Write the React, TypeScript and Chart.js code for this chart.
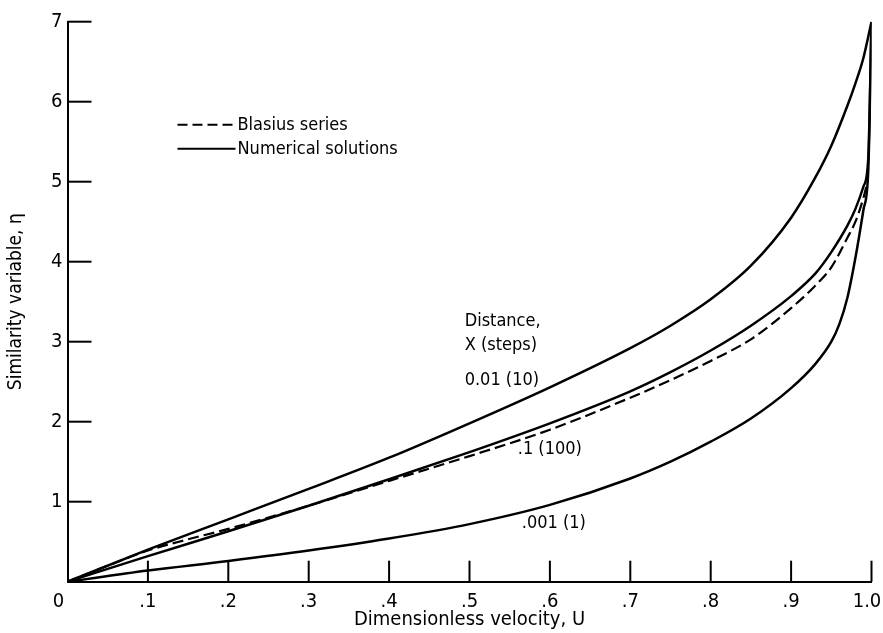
import { useEffect, useRef } from "react";
import { Chart, registerables } from "chart.js";

Chart.register(...registerables);

const FONT = "'Liberation Sans Narrow', 'DejaVu Sans Condensed', 'Arial Narrow', sans-serif";

// ---- data ----
const xTickValues = [0, 0.1, 0.2, 0.3, 0.4, 0.5, 0.6, 0.7, 0.8, 0.9, 1.0];
const xTickLabels = ["0\u2002\u2002", ".1", ".2", ".3", ".4", ".5", ".6", ".7", ".8", ".9", "1.0\u2002"];
const yTickValues = [0, 1, 2, 3, 4, 5, 6, 7];
const yTickLabels = ["", "1", "2", "3", "4", "5", "6", "7"];

const xAxisTitle = "Dimensionless velocity, U";
const yAxisTitle = "Similarity variable, \u03b7";

const legendLabels = ["Blasius series", "Numerical solutions"];
const noteLines = ["Distance,", "X (steps)"];
const curveLabels = ["0.01 (10)", ".1 (100)", ".001 (1)"];

// Numerical solution, X = 0.01 (10 steps)
const uX001 = [0, 0.1, 0.2, 0.3, 0.4, 0.5, 0.6, 0.7, 0.75, 0.8, 0.85, 0.9, 0.93, 0.95, 0.97, 0.98, 0.99, 1.0];
const etaX001 = [0, 0.4, 0.78, 1.16, 1.55, 1.98, 2.43, 2.92, 3.2, 3.53, 3.95, 4.55, 5.05, 5.45, 5.95, 6.23, 6.55, 7.0];

// Numerical solution, X = 0.1 (100 steps)
const uX01 = [0, 0.1, 0.2, 0.3, 0.4, 0.5, 0.6, 0.7, 0.75, 0.8, 0.85, 0.9, 0.93, 0.95, 0.97, 0.98, 0.99, 0.996, 1.0];
const etaX01 = [0, 0.32, 0.63, 0.95, 1.28, 1.62, 1.98, 2.38, 2.62, 2.89, 3.2, 3.57, 3.85, 4.12, 4.45, 4.66, 4.94, 5.3, 7.0];

// Numerical solution, X = 0.001 (1 step)
const uX0001 = [0, 0.1, 0.2, 0.3, 0.4, 0.5, 0.6, 0.7, 0.75, 0.8, 0.85, 0.9, 0.93, 0.95, 0.96, 0.97, 0.98, 0.99, 0.996, 1.0];
const etaX0001 = [0, 0.14, 0.26, 0.39, 0.54, 0.72, 0.96, 1.29, 1.5, 1.75, 2.04, 2.42, 2.72, 3.0, 3.22, 3.55, 4.05, 4.65, 5.15, 7.0];

// Blasius series
const uBlasius = [0, 0.05, 0.1, 0.15, 0.2, 0.3, 0.4, 0.5, 0.6, 0.7, 0.75, 0.8, 0.85, 0.9, 0.93, 0.95, 0.97, 0.98, 0.99, 0.995];
const etaBlasius = [0, 0.2, 0.39, 0.53, 0.66, 0.95, 1.26, 1.57, 1.9, 2.3, 2.52, 2.76, 3.03, 3.42, 3.7, 3.93, 4.3, 4.5, 4.8, 5.0];

const toPoints = (xs: number[], ys: number[]) => xs.map((x, i) => ({ x, y: ys[i] }));

const DASH = [11, 5];

const decorPlugin = {
  id: "decor",
  afterDraw(chart: any) {
    const { ctx, chartArea, scales } = chart;
    const xs = scales.x;
    const ys = scales.y;
    ctx.save();
    ctx.strokeStyle = "#000";
    ctx.fillStyle = "#000";
    ctx.lineWidth = 2;
    ctx.lineCap = "butt";
    // inward tick marks
    xTickValues.forEach((v) => {
      if (v === 0) return;
      const px = xs.getPixelForValue(v);
      ctx.beginPath();
      ctx.moveTo(px, chartArea.bottom);
      ctx.lineTo(px, chartArea.bottom - 21);
      ctx.stroke();
    });
    yTickValues.forEach((v) => {
      if (v === 0) return;
      const py = ys.getPixelForValue(v);
      ctx.beginPath();
      ctx.moveTo(chartArea.left, py);
      ctx.lineTo(chartArea.left + 24, py);
      ctx.stroke();
    });

    // legend
    const lx = chartArea.left + 110;
    const lyTop = chartArea.top + 103;
    ctx.font = `18px ${FONT}`;
    ctx.textBaseline = "middle";
    ctx.textAlign = "left";
    legendLabels.forEach((label, i) => {
      const ly = lyTop + i * 24;
      ctx.setLineDash(i === 0 ? [10, 5] : []);
      ctx.beginPath();
      ctx.moveTo(lx, ly);
      ctx.lineTo(lx + 58, ly);
      ctx.stroke();
      ctx.setLineDash([]);
      ctx.fillText(label, lx + 60, ly + 1);
    });

    // annotations (placed in data coordinates)
    const noteU = 0.494;
    const noteEta = [3.26, 2.96];
    noteLines.forEach((t, i) => {
      ctx.fillText(t, xs.getPixelForValue(noteU), ys.getPixelForValue(noteEta[i]));
    });
    const labelPos = [
      [0.494, 2.52],
      [0.56, 1.65],
      [0.565, 0.73],
    ];
    curveLabels.forEach((t, i) => {
      ctx.fillText(t, xs.getPixelForValue(labelPos[i][0]), ys.getPixelForValue(labelPos[i][1]));
    });
    ctx.restore();
  },
};

export default function App() {
  const canvasRef = useRef<HTMLCanvasElement | null>(null);

  useEffect(() => {
    document.body.style.margin = "0";
    document.body.style.overflow = "hidden";
    const canvas = canvasRef.current;
    if (!canvas) return;
    const lineStyle = {
      borderColor: "#000",
      borderWidth: 2.5,
      pointRadius: 0,
      fill: false,
      cubicInterpolationMode: "monotone" as const,
    };
    const chart = new Chart(canvas, {
      type: "line",
      data: {
        datasets: [
          { ...lineStyle, label: "0.01 (10)", data: toPoints(uX001, etaX001) },
          { ...lineStyle, label: ".1 (100)", data: toPoints(uX01, etaX01) },
          { ...lineStyle, label: ".001 (1)", data: toPoints(uX0001, etaX0001) },
          { ...lineStyle, label: "Blasius series", borderDash: DASH, borderWidth: 2.2, data: toPoints(uBlasius, etaBlasius) },
        ],
      },
      options: {
        animation: false,
        responsive: false,
        layout: { padding: { top: 21.7, right: 11.5, bottom: 0, left: 0 } },
        plugins: { legend: { display: false }, tooltip: { enabled: false } },
        scales: {
          x: {
            type: "linear",
            min: 0,
            max: 1,
            afterBuildTicks: (scale: any) => {
              scale.ticks = xTickValues.map((v) => ({ value: v }));
            },
            afterFit: (scale: any) => {
              scale.height = 51.3;
              scale.paddingLeft = 0;
              scale.paddingRight = 0;
            },
            grid: { display: false, drawTicks: false },
            border: { display: true, color: "#000", width: 2 },
            ticks: {
              color: "#000",
              font: { family: FONT, size: 20 },
              padding: 8,
              maxRotation: 0,
              autoSkip: false,
              callback: (_v: any, i: number) => xTickLabels[i],
            },
            title: {
              display: true,
              text: xAxisTitle,
              color: "#000",
              font: { family: FONT, size: 20 },
              padding: { top: 0, bottom: 1 },
            },
          },
          y: {
            type: "linear",
            min: 0,
            max: 7,
            afterBuildTicks: (scale: any) => {
              scale.ticks = yTickValues.map((v) => ({ value: v }));
            },
            afterFit: (scale: any) => {
              scale.width = 67.5;
              scale.paddingTop = 0;
              scale.paddingBottom = 0;
            },
            grid: { display: false, drawTicks: false },
            border: { display: true, color: "#000", width: 2 },
            ticks: {
              color: "#000",
              font: { family: FONT, size: 20 },
              padding: 5,
              autoSkip: false,
              callback: (_v: any, i: number) => yTickLabels[i],
            },
            title: {
              display: true,
              text: yAxisTitle,
              color: "#000",
              font: { family: FONT, size: 19 },
              padding: { top: 5, bottom: 0 },
            },
          },
        },
      },
      plugins: [decorPlugin],
    });
    return () => chart.destroy();
  }, []);

  return (
    <div style={{ width: 883, height: 633, background: "#fff" }}>
      <canvas ref={canvasRef} width={883} height={633} />
    </div>
  );
}
